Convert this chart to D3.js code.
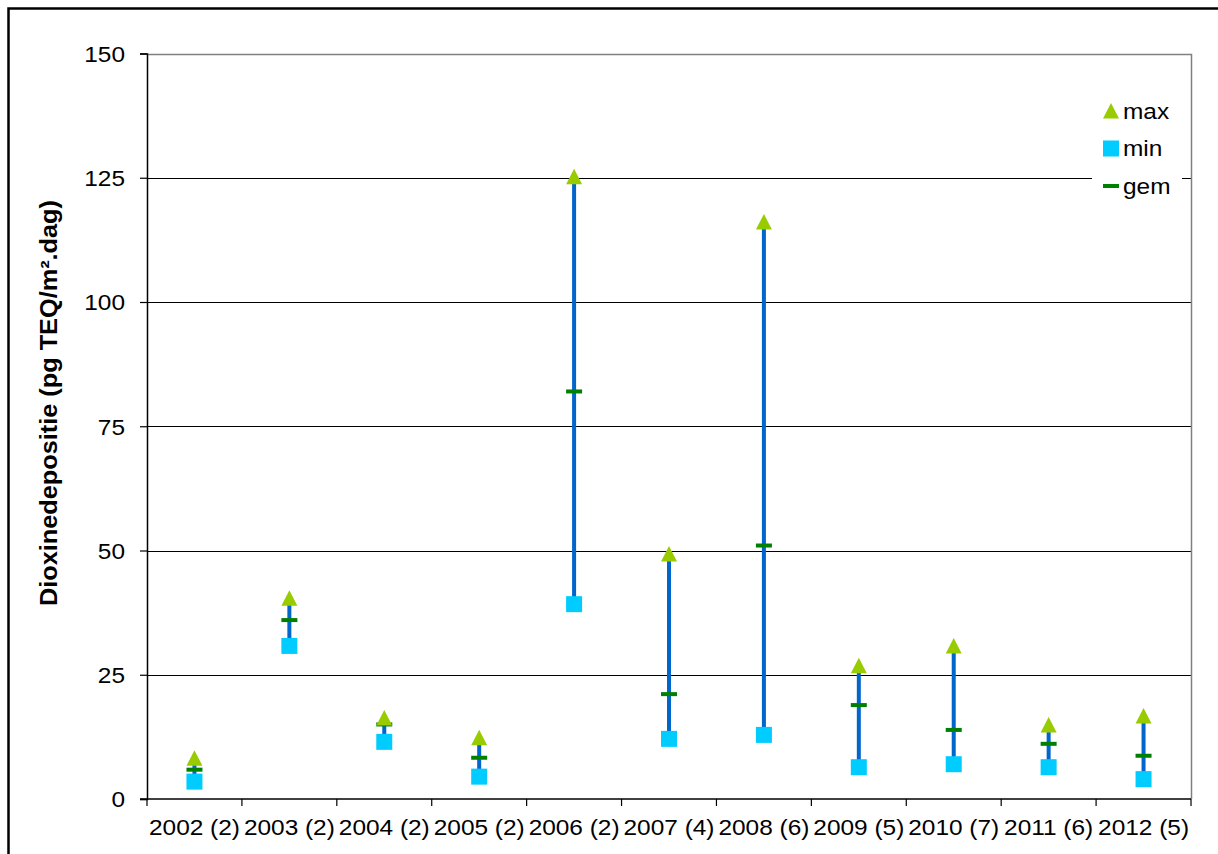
<!DOCTYPE html>
<html>
<head>
<meta charset="utf-8">
<script src="https://cdn.jsdelivr.net/npm/d3@7"></script>
<style>
  html, body { margin: 0; padding: 0; background: #fff; }
  svg { display: block; font-family: Arial, "Liberation Sans", sans-serif; }
</style>
</head>
<body>
<svg id="chart" width="1218" height="854"></svg>
<script>
// Dioxin deposition per year (number of measurements in brackets)
const categories = ["2002 (2)", "2003 (2)", "2004 (2)", "2005 (2)", "2006 (2)", "2007 (4)",
                    "2008 (6)", "2009 (5)", "2010 (7)", "2011 (6)", "2012 (5)"];
const maxValues = [8.2, 40.4, 16.3, 12.3, 125.2, 49.3, 116.1, 26.8, 30.8, 14.9, 16.7];
const minValues = [3.5, 30.8, 11.5, 4.5, 39.2, 12.1, 12.9, 6.4, 7.0, 6.4, 4.0];
const gemValues = [5.9, 36.0, 15.0, 8.3, 82.0, 21.1, 51.0, 18.9, 13.9, 11.1, 8.7];
const yTicks = [0, 25, 50, 75, 100, 125, 150];
const legendLabels = ["max", "min", "gem"];

const colors = { max: "#99CC00", min: "#00CCFF", gem: "#008000", range: "#0066CC" };

const svg = d3.select("#chart");
const W = 1218, H = 854;
const plot = { left: 147, right: 1191, top: 53.5, bottom: 799 };
const FS = 22;          // label font size
const STRETCH = 1.11;   // horizontal widening of the label glyphs

// outer frame (continues past the bottom/right edge)
svg.append("rect")
  .attr("x", 8.5).attr("y", 8.5)
  .attr("width", W + 20).attr("height", H + 20)
  .attr("fill", "none").attr("stroke", "#000").attr("stroke-width", 2.5);

const x = d3.scaleBand().domain(categories).range([plot.left, plot.right]).padding(0);
const y = d3.scaleLinear().domain([0, 150]).range([plot.bottom, plot.top]);

// horizontal gridlines
svg.append("g").selectAll("line")
  .data(yTicks.filter(t => t > 0 && t < 150))
  .join("line")
  .attr("x1", plot.left).attr("x2", plot.right)
  .attr("y1", d => Math.round(y(d)) + 0.5).attr("y2", d => Math.round(y(d)) + 0.5)
  .attr("stroke", "#000").attr("stroke-width", 1);

// plot area border (top and right)
svg.append("path")
  .attr("d", `M${plot.left},${Math.round(plot.top) + 0.5}H${plot.right + 0.5}V${plot.bottom}`)
  .attr("fill", "none").attr("stroke", "#808080").attr("stroke-width", 1.5);

// y axis
const yAxis = d3.axisLeft(y).tickValues(yTicks).tickSize(7).tickPadding(0).tickFormat(d3.format("d"));
const gy = svg.append("g").attr("transform", `translate(${plot.left},0)`).call(yAxis);
gy.select(".domain").attr("stroke", "#000").attr("stroke-width", 1.5);
gy.selectAll(".tick line").attr("stroke", "#000").attr("stroke-width", 1.2);
gy.selectAll(".tick text")
  .attr("x", 0).attr("dy", "0.36em")
  .attr("transform", `translate(-22,0) scale(${STRETCH},1)`)
  .attr("font-size", FS).attr("fill", "#000")
  .attr("font-family", "Arial, 'Liberation Sans', sans-serif");

// x axis: ticks on category boundaries, labels in category centres
const gx = svg.append("g").attr("transform", `translate(0,${plot.bottom})`);
gx.append("line")
  .attr("x1", plot.left - 7).attr("x2", plot.right)
  .attr("stroke", "#000").attr("stroke-width", 1.5);
const boundaries = categories.map(c => x(c)).concat([x(categories[categories.length - 1]) + x.bandwidth()]);
gx.selectAll("line.tk").data(boundaries).join("line").attr("class", "tk")
  .attr("x1", d => d).attr("x2", d => d).attr("y1", 0).attr("y2", 7)
  .attr("stroke", "#000").attr("stroke-width", 1.2);
gx.selectAll("text").data(categories).join("text")
  .attr("transform", d => `translate(${x(d) + x.bandwidth() / 2},36) scale(${STRETCH},1)`)
  .attr("text-anchor", "middle")
  .attr("font-size", FS).attr("fill", "#000")
  .text(d => d);

// y axis title
svg.append("text")
  .attr("transform", `translate(57,403) rotate(-90) scale(1.1,1)`)
  .attr("text-anchor", "middle")
  .attr("font-size", 23).attr("font-weight", "bold").attr("fill", "#000")
  .text("Dioxinedepositie (pg TEQ/m².dag)");

const cx = d => x(d) + x.bandwidth() / 2;
const rows = categories.map((c, i) => ({ c, max: maxValues[i], min: minValues[i], gem: gemValues[i] }));

// range lines min–max
svg.append("g").selectAll("line").data(rows).join("line")
  .attr("x1", d => cx(d.c)).attr("x2", d => cx(d.c))
  .attr("y1", d => y(d.min)).attr("y2", d => y(d.max))
  .attr("stroke", colors.range).attr("stroke-width", 4);

// markers
const tri = (px, py) => `M${px},${py - 8}L${px + 8},${py + 7.5}L${px - 8},${py + 7.5}Z`;
function drawMin(g, px, py) {
  g.append("rect").attr("x", px - 8).attr("y", py - 8).attr("width", 16).attr("height", 16)
    .attr("fill", colors.min);
}
function drawMax(g, px, py) {
  g.append("path").attr("d", tri(px, py)).attr("fill", colors.max);
}
function drawGem(g, px, py) {
  g.append("rect").attr("x", px - 8).attr("y", py - 2).attr("width", 16).attr("height", 4)
    .attr("fill", colors.gem);
}
const mk = svg.append("g");
rows.forEach(d => drawGem(mk, cx(d.c), y(d.gem)));
rows.forEach(d => drawMin(mk, cx(d.c), y(d.min)));
rows.forEach(d => drawMax(mk, cx(d.c), y(d.max)));

// legend
const lg = svg.append("g");
lg.append("rect").attr("x", 1092).attr("y", 95).attr("width", 90).attr("height", 112).attr("fill", "#fff");
const drawers = [drawMax, drawMin, drawGem];
legendLabels.forEach((lab, i) => {
  const ly = 111 + i * 37.5;
  drawers[i](lg, 1111, ly);
  lg.append("text")
    .attr("transform", `translate(1123,${ly + 7.5}) scale(${STRETCH},1)`)
    .attr("font-size", FS).attr("fill", "#000").text(lab);
});
</script>
</body>
</html>
